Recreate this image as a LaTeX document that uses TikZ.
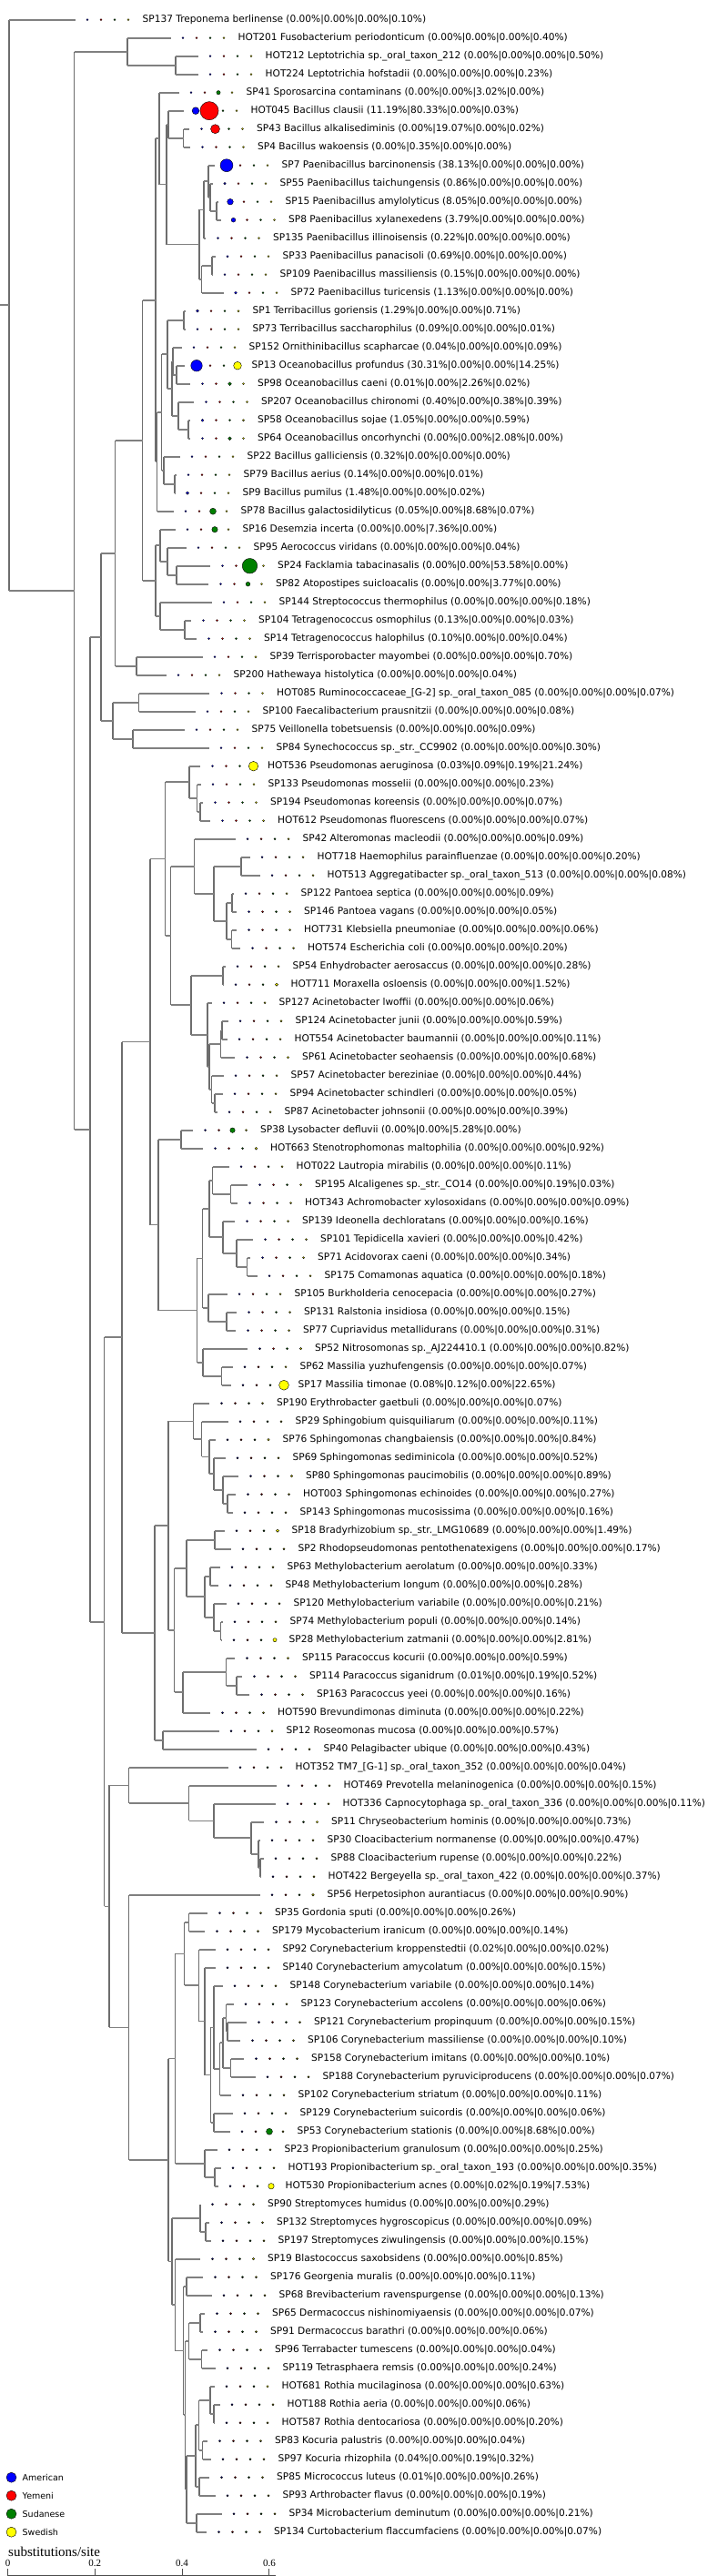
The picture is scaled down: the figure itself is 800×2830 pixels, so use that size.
\documentclass[tikz,border=0pt]{standalone}
\usepackage{fontspec}
\setmainfont{DejaVu Sans}
\newfontfamily\axisfont{Liberation Serif}
\usepackage{tikz}
\usetikzlibrary{calc}
\definecolor{amer}{HTML}{0000FF}
\definecolor{yem}{HTML}{FF0000}
\definecolor{sud}{HTML}{008000}
\definecolor{swe}{HTML}{FFFF00}
\definecolor{branchgray}{HTML}{808080}
\tikzset{
  hline/.style={draw=branchgray, line width=1.6pt},
  vline/.style={draw=branchgray!85!black, line width=1.1pt},
  lbl/.style={inner sep=0pt, font=\fontsize{10.6}{12}\selectfont},
  dot/.style={draw=black, line width=0.4pt},
}
% leaf: index, end of branch, name, four percentages
\newcommand{\leaf}[7]{%
  \coordinate (l#1) at (#2, {21.7+20*(#1-1)});
  \foreach \p/\c [count=\k from 0] in {#4/amer,#5/yem,#6/sud,#7/swe}{
    \pgfmathsetmacro{\r}{max(1,1.1*sqrt(\p)+0.2)}
    \filldraw[dot, fill=\c] ($(l#1)+({13.5+15*\k},0)$) circle[radius=\r];
  }
  \node[lbl, anchor=west] (n#1) at ($(l#1)+(74,0)$) {#3 (#4\%|#5\%|#6\%|#7\%)};
}
% clade: name, x, upper child, lower child
\newcommand{\clade}[4]{%
  \path let \p1=(#3), \p2=(#4) in coordinate (#1) at (#2pt, {0.5*(\y1+\y2)});
  \draw[vline] (#1 |- #3) -- (#1 |- #4);
  \draw[hline] (#1 |- #3) -- (#3);
  \draw[hline] (#1 |- #4) -- (#4);
}
\begin{document}
\begin{tikzpicture}[x=1pt, y=-1pt]
  \useasboundingbox (0,0) rectangle (800,2830);
  % leaves
  \leaf{1}{82.5}{SP137 Treponema berlinense}{0.00}{0.00}{0.00}{0.10}
  \leaf{2}{187.5}{HOT201 Fusobacterium periodonticum}{0.00}{0.00}{0.00}{0.40}
  \leaf{3}{217.5}{HOT212 Leptotrichia sp.\_oral\_taxon\_212}{0.00}{0.00}{0.00}{0.50}
  \leaf{4}{217.5}{HOT224 Leptotrichia hofstadii}{0.00}{0.00}{0.00}{0.23}
  \leaf{5}{196.5}{SP41 Sporosarcina contaminans}{0.00}{0.00}{3.02}{0.00}
  \leaf{6}{201.5}{HOT045 Bacillus clausii}{11.19}{80.33}{0.00}{0.03}
  \leaf{7}{208}{SP43 Bacillus alkalisediminis}{0.00}{19.07}{0.00}{0.02}
  \leaf{8}{209}{SP4 Bacillus wakoensis}{0.00}{0.35}{0.00}{0.00}
  \leaf{9}{235.5}{SP7 Paenibacillus barcinonensis}{38.13}{0.00}{0.00}{0.00}
  \leaf{10}{233.5}{SP55 Paenibacillus taichungensis}{0.86}{0.00}{0.00}{0.00}
  \leaf{11}{239.5}{SP15 Paenibacillus amylolyticus}{8.05}{0.00}{0.00}{0.00}
  \leaf{12}{243}{SP8 Paenibacillus xylanexedens}{3.79}{0.00}{0.00}{0.00}
  \leaf{13}{226}{SP135 Paenibacillus illinoisensis}{0.22}{0.00}{0.00}{0.00}
  \leaf{14}{236.5}{SP33 Paenibacillus panacisoli}{0.69}{0.00}{0.00}{0.00}
  \leaf{15}{233.5}{SP109 Paenibacillus massiliensis}{0.15}{0.00}{0.00}{0.00}
  \leaf{16}{245.5}{SP72 Paenibacillus turicensis}{1.13}{0.00}{0.00}{0.00}
  \leaf{17}{203.5}{SP1 Terribacillus goriensis}{1.29}{0.00}{0.00}{0.71}
  \leaf{18}{203.5}{SP73 Terribacillus saccharophilus}{0.09}{0.00}{0.00}{0.01}
  \leaf{19}{199.5}{SP152 Ornithinibacillus scapharcae}{0.04}{0.00}{0.00}{0.09}
  \leaf{20}{202.5}{SP13 Oceanobacillus profundus}{30.31}{0.00}{0.00}{14.25}
  \leaf{21}{209}{SP98 Oceanobacillus caeni}{0.01}{0.00}{2.26}{0.02}
  \leaf{22}{213}{SP207 Oceanobacillus chironomi}{0.40}{0.00}{0.38}{0.39}
  \leaf{23}{209}{SP58 Oceanobacillus sojae}{1.05}{0.00}{0.00}{0.59}
  \leaf{24}{209}{SP64 Oceanobacillus oncorhynchi}{0.00}{0.00}{2.08}{0.00}
  \leaf{25}{197.5}{SP22 Bacillus galliciensis}{0.32}{0.00}{0.00}{0.00}
  \leaf{26}{193.5}{SP79 Bacillus aerius}{0.14}{0.00}{0.00}{0.01}
  \leaf{27}{192.5}{SP9 Bacillus pumilus}{1.48}{0.00}{0.00}{0.02}
  \leaf{28}{190.5}{SP78 Bacillus galactosidilyticus}{0.05}{0.00}{8.68}{0.07}
  \leaf{29}{192.5}{SP16 Desemzia incerta}{0.00}{0.00}{7.36}{0.00}
  \leaf{30}{204.5}{SP95 Aerococcus viridans}{0.00}{0.00}{0.00}{0.04}
  \leaf{31}{231}{SP24 Facklamia tabacinasalis}{0.00}{0.00}{53.58}{0.00}
  \leaf{32}{229}{SP82 Atopostipes suicloacalis}{0.00}{0.00}{3.77}{0.00}
  \leaf{33}{232.5}{SP144 Streptococcus thermophilus}{0.00}{0.00}{0.00}{0.18}
  \leaf{34}{210}{SP104 Tetragenococcus osmophilus}{0.13}{0.00}{0.00}{0.03}
  \leaf{35}{216}{SP14 Tetragenococcus halophilus}{0.10}{0.00}{0.00}{0.04}
  \leaf{36}{222.5}{SP39 Terrisporobacter mayombei}{0.00}{0.00}{0.00}{0.70}
  \leaf{37}{182.5}{SP200 Hathewaya histolytica}{0.00}{0.00}{0.00}{0.04}
  \leaf{38}{230}{HOT085 Ruminococcaceae\_[G-2] sp.\_oral\_taxon\_085}{0.00}{0.00}{0.00}{0.07}
  \leaf{39}{214.5}{SP100 Faecalibacterium prausnitzii}{0.00}{0.00}{0.00}{0.08}
  \leaf{40}{202.5}{SP75 Veillonella tobetsuensis}{0.00}{0.00}{0.00}{0.09}
  \leaf{41}{229.5}{SP84 Synechococcus sp.\_str.\_CC9902}{0.00}{0.00}{0.00}{0.30}
  \leaf{42}{220}{HOT536 Pseudomonas aeruginosa}{0.03}{0.09}{0.19}{21.24}
  \leaf{43}{220.5}{SP133 Pseudomonas mosselii}{0.00}{0.00}{0.00}{0.23}
  \leaf{44}{223}{SP194 Pseudomonas koreensis}{0.00}{0.00}{0.00}{0.07}
  \leaf{45}{231}{HOT612 Pseudomonas fluorescens}{0.00}{0.00}{0.00}{0.07}
  \leaf{46}{258.5}{SP42 Alteromonas macleodii}{0.00}{0.00}{0.00}{0.09}
  \leaf{47}{274.5}{HOT718 Haemophilus parainfluenzae}{0.00}{0.00}{0.00}{0.20}
  \leaf{48}{285.5}{HOT513 Aggregatibacter sp.\_oral\_taxon\_513}{0.00}{0.00}{0.00}{0.08}
  \leaf{49}{256.5}{SP122 Pantoea septica}{0.00}{0.00}{0.00}{0.09}
  \leaf{50}{260}{SP146 Pantoea vagans}{0.00}{0.00}{0.00}{0.05}
  \leaf{51}{260}{HOT731 Klebsiella pneumoniae}{0.00}{0.00}{0.00}{0.06}
  \leaf{52}{264}{HOT574 Escherichia coli}{0.00}{0.00}{0.00}{0.20}
  \leaf{53}{247.5}{SP54 Enhydrobacter aerosaccus}{0.00}{0.00}{0.00}{0.28}
  \leaf{54}{245.5}{HOT711 Moraxella osloensis}{0.00}{0.00}{0.00}{1.52}
  \leaf{55}{232.5}{SP127 Acinetobacter lwoffii}{0.00}{0.00}{0.00}{0.06}
  \leaf{56}{250.5}{SP124 Acinetobacter junii}{0.00}{0.00}{0.00}{0.59}
  \leaf{57}{249.5}{HOT554 Acinetobacter baumannii}{0.00}{0.00}{0.00}{0.11}
  \leaf{58}{258}{SP61 Acinetobacter seohaensis}{0.00}{0.00}{0.00}{0.68}
  \leaf{59}{245.5}{SP57 Acinetobacter bereziniae}{0.00}{0.00}{0.00}{0.44}
  \leaf{60}{244.5}{SP94 Acinetobacter schindleri}{0.00}{0.00}{0.00}{0.05}
  \leaf{61}{238.5}{SP87 Acinetobacter johnsonii}{0.00}{0.00}{0.00}{0.39}
  \leaf{62}{212}{SP38 Lysobacter defluvii}{0.00}{0.00}{5.28}{0.00}
  \leaf{63}{223}{HOT663 Stenotrophomonas maltophilia}{0.00}{0.00}{0.00}{0.92}
  \leaf{64}{251.5}{HOT022 Lautropia mirabilis}{0.00}{0.00}{0.00}{0.11}
  \leaf{65}{272}{SP195 Alcaligenes sp.\_str.\_CO14}{0.00}{0.00}{0.19}{0.03}
  \leaf{66}{261}{HOT343 Achromobacter xylosoxidans}{0.00}{0.00}{0.00}{0.09}
  \leaf{67}{258}{SP139 Ideonella dechloratans}{0.00}{0.00}{0.00}{0.16}
  \leaf{68}{278}{SP101 Tepidicella xavieri}{0.00}{0.00}{0.00}{0.42}
  \leaf{69}{275}{SP71 Acidovorax caeni}{0.00}{0.00}{0.00}{0.34}
  \leaf{70}{282.5}{SP175 Comamonas aquatica}{0.00}{0.00}{0.00}{0.18}
  \leaf{71}{249.5}{SP105 Burkholderia cenocepacia}{0.00}{0.00}{0.00}{0.27}
  \leaf{72}{260}{SP131 Ralstonia insidiosa}{0.00}{0.00}{0.00}{0.15}
  \leaf{73}{259}{SP77 Cupriavidus metallidurans}{0.00}{0.00}{0.00}{0.31}
  \leaf{74}{272}{SP52 Nitrosomonas sp.\_AJ224410.1}{0.00}{0.00}{0.00}{0.82}
  \leaf{75}{255.5}{SP62 Massilia yuzhufengensis}{0.00}{0.00}{0.00}{0.07}
  \leaf{76}{253.5}{SP17 Massilia timonae}{0.08}{0.12}{0.00}{22.65}
  \leaf{77}{230}{SP190 Erythrobacter gaetbuli}{0.00}{0.00}{0.00}{0.07}
  \leaf{78}{250.5}{SP29 Sphingobium quisquiliarum}{0.00}{0.00}{0.00}{0.11}
  \leaf{79}{236.5}{SP76 Sphingomonas changbaiensis}{0.00}{0.00}{0.00}{0.84}
  \leaf{80}{247.5}{SP69 Sphingomonas sediminicola}{0.00}{0.00}{0.00}{0.52}
  \leaf{81}{262}{SP80 Sphingomonas paucimobilis}{0.00}{0.00}{0.00}{0.89}
  \leaf{82}{259}{HOT003 Sphingomonas echinoides}{0.00}{0.00}{0.00}{0.27}
  \leaf{83}{255.5}{SP143 Sphingomonas mucosissima}{0.00}{0.00}{0.00}{0.16}
  \leaf{84}{246.5}{SP18 Bradyrhizobium sp.\_str.\_LMG10689}{0.00}{0.00}{0.00}{1.49}
  \leaf{85}{253.5}{SP2 Rhodopseudomonas pentothenatexigens}{0.00}{0.00}{0.00}{0.17}
  \leaf{86}{241.5}{SP63 Methylobacterium aerolatum}{0.00}{0.00}{0.00}{0.33}
  \leaf{87}{239.5}{SP48 Methylobacterium longum}{0.00}{0.00}{0.00}{0.28}
  \leaf{88}{248.5}{SP120 Methylobacterium variabile}{0.00}{0.00}{0.00}{0.21}
  \leaf{89}{244.5}{SP74 Methylobacterium populi}{0.00}{0.00}{0.00}{0.14}
  \leaf{90}{243.5}{SP28 Methylobacterium zatmanii}{0.00}{0.00}{0.00}{2.81}
  \leaf{91}{258}{SP115 Paracoccus kocurii}{0.00}{0.00}{0.00}{0.59}
  \leaf{92}{266}{SP114 Paracoccus siganidrum}{0.01}{0.00}{0.19}{0.52}
  \leaf{93}{274}{SP163 Paracoccus yeei}{0.00}{0.00}{0.00}{0.16}
  \leaf{94}{231}{HOT590 Brevundimonas diminuta}{0.00}{0.00}{0.00}{0.22}
  \leaf{95}{240.5}{SP12 Roseomonas mucosa}{0.00}{0.00}{0.00}{0.57}
  \leaf{96}{281.5}{SP40 Pelagibacter ubique}{0.00}{0.00}{0.00}{0.43}
  \leaf{97}{250.5}{HOT352 TM7\_[G-1] sp.\_oral\_taxon\_352}{0.00}{0.00}{0.00}{0.04}
  \leaf{98}{303.5}{HOT469 Prevotella melaninogenica}{0.00}{0.00}{0.00}{0.15}
  \leaf{99}{302.5}{HOT336 Capnocytophaga sp.\_oral\_taxon\_336}{0.00}{0.00}{0.00}{0.11}
  \leaf{100}{290}{SP11 Chryseobacterium hominis}{0.00}{0.00}{0.00}{0.73}
  \leaf{101}{285.5}{SP30 Cloacibacterium normanense}{0.00}{0.00}{0.00}{0.47}
  \leaf{102}{289.5}{SP88 Cloacibacterium rupense}{0.00}{0.00}{0.00}{0.22}
  \leaf{103}{286.5}{HOT422 Bergeyella sp.\_oral\_taxon\_422}{0.00}{0.00}{0.00}{0.37}
  \leaf{104}{285.5}{SP56 Herpetosiphon aurantiacus}{0.00}{0.00}{0.00}{0.90}
  \leaf{105}{228}{SP35 Gordonia sputi}{0.00}{0.00}{0.00}{0.26}
  \leaf{106}{225}{SP179 Mycobacterium iranicum}{0.00}{0.00}{0.00}{0.14}
  \leaf{107}{236.5}{SP92 Corynebacterium kroppenstedtii}{0.02}{0.00}{0.00}{0.02}
  \leaf{108}{236.5}{SP140 Corynebacterium amycolatum}{0.00}{0.00}{0.00}{0.15}
  \leaf{109}{244.5}{SP148 Corynebacterium variabile}{0.00}{0.00}{0.00}{0.14}
  \leaf{110}{256.5}{SP123 Corynebacterium accolens}{0.00}{0.00}{0.00}{0.06}
  \leaf{111}{271}{SP121 Corynebacterium propinquum}{0.00}{0.00}{0.00}{0.15}
  \leaf{112}{264}{SP106 Corynebacterium massiliense}{0.00}{0.00}{0.00}{0.10}
  \leaf{113}{268}{SP158 Corynebacterium imitans}{0.00}{0.00}{0.00}{0.10}
  \leaf{114}{280.5}{SP188 Corynebacterium pyruviciproducens}{0.00}{0.00}{0.00}{0.07}
  \leaf{115}{253.5}{SP102 Corynebacterium striatum}{0.00}{0.00}{0.00}{0.11}
  \leaf{116}{255.5}{SP129 Corynebacterium suicordis}{0.00}{0.00}{0.00}{0.06}
  \leaf{117}{252.5}{SP53 Corynebacterium stationis}{0.00}{0.00}{8.68}{0.00}
  \leaf{118}{238.5}{SP23 Propionibacterium granulosum}{0.00}{0.00}{0.00}{0.25}
  \leaf{119}{242.5}{HOT193 Propionibacterium sp.\_oral\_taxon\_193}{0.00}{0.00}{0.00}{0.35}
  \leaf{120}{239.5}{HOT530 Propionibacterium acnes}{0.00}{0.02}{0.19}{7.53}
  \leaf{121}{220}{SP90 Streptomyces humidus}{0.00}{0.00}{0.00}{0.29}
  \leaf{122}{230}{SP132 Streptomyces hygroscopicus}{0.00}{0.00}{0.00}{0.09}
  \leaf{123}{231.5}{SP197 Streptomyces ziwulingensis}{0.00}{0.00}{0.00}{0.15}
  \leaf{124}{220}{SP19 Blastococcus saxobsidens}{0.00}{0.00}{0.00}{0.85}
  \leaf{125}{223}{SP176 Georgenia muralis}{0.00}{0.00}{0.00}{0.11}
  \leaf{126}{232.5}{SP68 Brevibacterium ravenspurgense}{0.00}{0.00}{0.00}{0.13}
  \leaf{127}{225}{SP65 Dermacoccus nishinomiyaensis}{0.00}{0.00}{0.00}{0.07}
  \leaf{128}{223}{SP91 Dermacoccus barathri}{0.00}{0.00}{0.00}{0.06}
  \leaf{129}{228}{SP96 Terrabacter tumescens}{0.00}{0.00}{0.00}{0.04}
  \leaf{130}{236.5}{SP119 Tetrasphaera remsis}{0.00}{0.00}{0.00}{0.24}
  \leaf{131}{235.5}{HOT681 Rothia mucilaginosa}{0.00}{0.00}{0.00}{0.63}
  \leaf{132}{241.5}{HOT188 Rothia aeria}{0.00}{0.00}{0.00}{0.06}
  \leaf{133}{235.5}{HOT587 Rothia dentocariosa}{0.00}{0.00}{0.00}{0.20}
  \leaf{134}{228}{SP83 Kocuria palustris}{0.00}{0.00}{0.00}{0.04}
  \leaf{135}{231.5}{SP97 Kocuria rhizophila}{0.04}{0.00}{0.19}{0.32}
  \leaf{136}{230}{SP85 Micrococcus luteus}{0.01}{0.00}{0.00}{0.26}
  \leaf{137}{236.5}{SP93 Arthrobacter flavus}{0.00}{0.00}{0.00}{0.19}
  \leaf{138}{243.5}{SP34 Microbacterium deminutum}{0.00}{0.00}{0.00}{0.21}
  \leaf{139}{227}{SP134 Curtobacterium flaccumfaciens}{0.00}{0.00}{0.00}{0.07}
  % Fusobacteria
  \clade{b1}{193}{l3}{l4}
  \clade{b}{140}{l2}{b1}
  % Bacillales
  \clade{bc}{201.5}{l7}{l8}
  \clade{bb}{185}{l6}{bc}
  \clade{g3}{238}{l11}{l12}
  \clade{g2}{231}{l10}{g3}
  \clade{g1}{229}{l9}{g2}
  \clade{pu}{224}{g1}{l13}
  \clade{p3}{233}{l14}{l15}
  \clade{p2}{221.5}{p3}{l16}
  \clade{p1}{219}{pu}{p2}
  \clade{q}{183}{bb}{p1}
  \clade{r}{175}{l5}{q}
  \clade{t1}{202}{l17}{l18}
  \clade{o1}{194}{l20}{l21}
  \clade{o2}{190}{l19}{o1}
  \clade{o4}{207}{l23}{l24}
  \clade{o3}{196}{l22}{o4}
  \clade{o5}{189}{o2}{o3}
  \clade{t2}{184}{t1}{o5}
  \clade{b9}{192}{l26}{l27}
  \clade{u}{180}{l25}{b9}
  \clade{s1}{177.5}{t2}{u}
  \clade{s}{172.5}{s1}{l28}
  \clade{f1}{171}{r}{s}
  % Lactobacillales
  \clade{la1}{194}{l31}{l32}
  \clade{la2}{184}{l30}{la1}
  \clade{la6}{176}{l29}{la2}
  \clade{la3}{203}{l34}{l35}
  \clade{la4}{176}{l33}{la3}
  \clade{f2}{171}{la6}{la4}
  \clade{f}{156.5}{f1}{f2}
  \clade{gg}{150}{l36}{l37}
  \clade{d1}{126.5}{f}{gg}
  \clade{h1}{152.5}{l38}{l39}
  \clade{h2}{146}{l40}{l41}
  \clade{d2}{124}{h1}{h2}
  \clade{d}{111}{d1}{d2}
  % Gammaproteobacteria
  \clade{ps1}{220}{l44}{l45}
  \clade{ps2}{216.5}{l43}{ps1}
  \clade{ps3}{208}{l42}{ps2}
  \clade{hae}{265}{l47}{l48}
  \clade{en1}{255}{l49}{l50}
  \clade{en2}{254.5}{l51}{l52}
  \clade{en3}{249}{en1}{en2}
  \clade{en4}{235}{hae}{en3}
  \clade{ga1}{213.5}{l46}{en4}
  \clade{mo1}{245}{l53}{l54}
  \clade{ac1}{244}{l56}{l57}
  \clade{ac2}{242.5}{ac1}{l58}
  \clade{ac3}{236}{l60}{l61}
  \clade{ac4}{232.5}{l59}{ac3}
  \clade{ac5}{230}{ac2}{ac4}
  \clade{ac6}{228}{l55}{ac5}
  \clade{mo2}{210}{mo1}{ac6}
  \clade{ga2}{187.5}{ga1}{mo2}
  \clade{ga3}{181.5}{ps3}{ga2}
  % Betaproteobacteria
  \clade{xa}{199}{l62}{l63}
  \clade{al1}{253.5}{l65}{l66}
  \clade{al2}{233.5}{l64}{al1}
  \clade{co1}{271.5}{l69}{l70}
  \clade{co2}{260}{l68}{co1}
  \clade{co3}{245}{l67}{co2}
  \clade{be1}{230}{al2}{co3}
  \clade{bu1}{249}{l72}{l73}
  \clade{bu2}{229}{l71}{bu1}
  \clade{be2}{222.5}{be1}{bu2}
  \clade{ma1}{243.5}{l75}{l76}
  \clade{ma2}{223}{l74}{ma1}
  \clade{be3}{216.5}{be2}{ma2}
  \clade{be4}{174}{xa}{be3}
  \clade{ga4}{165}{ga3}{be4}
  % Alphaproteobacteria
  \clade{sp1}{250}{l82}{l83}
  \clade{sp2}{245}{l81}{sp1}
  \clade{sp3}{235}{l80}{sp2}
  \clade{sp4}{230}{l79}{sp3}
  \clade{sp5}{221.5}{l78}{sp4}
  \clade{sp6}{212.5}{l77}{sp5}
  \clade{rh1}{236}{l84}{l85}
  \clade{me1}{231}{l86}{l87}
  \clade{me2}{242.5}{l89}{l90}
  \clade{me3}{235}{l88}{me2}
  \clade{me4}{225}{me1}{me3}
  \clade{rh2}{205}{rh1}{me4}
  \clade{pa1}{260}{l92}{l93}
  \clade{pa2}{248.5}{l91}{pa1}
  \clade{ca}{201}{pa2}{l94}
  \clade{a2}{191.5}{rh2}{ca}
  \clade{a1}{185}{sp6}{a2}
  \clade{ro}{179}{l95}{l96}
  \clade{a3}{170}{a1}{ro}
  \clade{pr}{134}{ga4}{a3}
  % Bacteroidetes
  \clade{fl1}{286}{l102}{l103}
  \clade{fl2}{284}{l101}{fl1}
  \clade{fl}{276}{l100}{fl2}
  \clade{bc3}{235}{l99}{fl}
  \clade{bc2}{207.5}{l98}{bc3}
  \clade{bct}{141.5}{l97}{bc2}
  % Actinobacteria
  \clade{my}{207.5}{l105}{l106}
  \clade{cy1}{250}{l111}{l112}
  \clade{cy2}{248.5}{l110}{cy1}
  \clade{cy3}{253.5}{l113}{l114}
  \clade{cye}{245}{cy2}{cy3}
  \clade{cyd}{241.5}{cye}{l115}
  \clade{cyc}{235}{l109}{cyd}
  \clade{cy7}{235}{l116}{l117}
  \clade{cyb}{231.5}{cyc}{cy7}
  \clade{cy10}{225}{l108}{cyb}
  \clade{cya}{218.5}{l107}{cy10}
  \clade{cor}{202.5}{my}{cya}
  \clade{pp1}{236}{l119}{l120}
  \clade{pp2}{225}{l118}{pp1}
  \clade{cp}{192.5}{cor}{pp2}
  \clade{st1}{226}{l122}{l123}
  \clade{st2}{220}{l121}{st1}
  \clade{ge}{205}{l125}{l126}
  \clade{de}{220}{l127}{l128}
  \clade{te}{221.5}{l129}{l130}
  \clade{dt}{207.5}{de}{te}
  \clade{ro1}{235}{l132}{l133}
  \clade{ro2}{231}{l131}{ro1}
  \clade{ko}{222.5}{l134}{l135}
  \clade{rk}{218.5}{ro2}{ko}
  \clade{mab}{219}{l136}{l137}
  \clade{rkma}{215}{rk}{mab}
  \clade{mb}{216}{l138}{l139}
  \clade{mi1}{205}{rkma}{mb}
  \clade{mi0}{203.5}{dt}{mi1}
  \clade{mi2}{201.5}{ge}{mi0}
  \clade{mi3}{192.5}{l124}{mi2}
  \clade{low}{189}{st2}{mi3}
  \clade{actb}{185}{cp}{low}
  \clade{act}{141.5}{l104}{actb}
  % backbone
  \clade{e2}{120}{bct}{act}
  \clade{e}{114.5}{pr}{e2}
  \clade{c}{99}{d}{e}
  \clade{a}{81.5}{b}{c}
  \clade{root}{10}{l1}{a}
  \coordinate (o) at (0,0);
  \draw[hline] (o |- root) -- (root);
  % legend
  \foreach \c/\t [count=\i from 0] in {amer/American,yem/Yemeni,sud/Sudanese,swe/Swedish}{
    \filldraw[dot, fill=\c] (12.5, {2721.7+20*\i}) circle[radius=5.5];
    \node[lbl, anchor=west, font=\fontsize{9.5}{11}\selectfont] (key\i) at (24.5, {2721.7+20*\i}) {\t};
  }
  % scale bar
  \node[anchor=west, inner sep=0pt, font=\axisfont\fontsize{15}{16}\selectfont] (unit) at (9, 2803) {substitutions/site};
  \draw[black!70, line width=1pt] (8.5,2829.5) -- (303,2829.5);
  \foreach \v/\t in {0/0, 1/0.2, 2/0.4, 3/0.6}{
    \draw[black!70, line width=1pt] ({8.5+95.8*\v},2822) -- ({8.5+95.8*\v},2830);
    \node[inner sep=0pt, font=\axisfont\fontsize{11}{12}\selectfont] (tick\v) at ({8.5+95.8*\v},2816) {\t};
  }
\end{tikzpicture}
\end{document}
